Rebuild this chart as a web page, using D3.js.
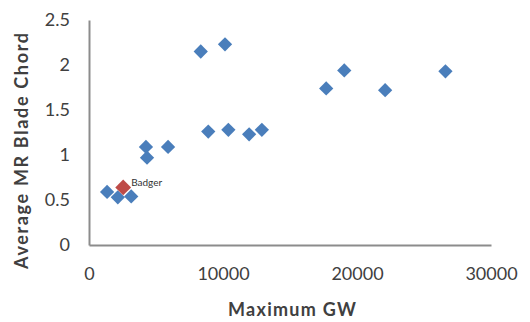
<!DOCTYPE html>
<html>
<head>
<meta charset="utf-8">
<script src="https://cdn.jsdelivr.net/npm/d3@7"></script>
<style>
  body { margin: 0; background: #fff; }
  svg text { font-family: Lato, "Open Sans", sans-serif; }
</style>
</head>
<body>
<div id="chart"></div>
<script>
// Dados
var gwValues = [1350, 2150, 3150, 4250, 4330, 5900, 8340, 8900, 10150, 10400, 11950, 12900, 17700, 19050, 22100, 26600];
var chordValues = [0.59, 0.53, 0.54, 1.09, 0.97, 1.09, 2.15, 1.26, 2.23, 1.28, 1.23, 1.28, 1.74, 1.94, 1.72, 1.93];
var badgerGW = [2550];
var badgerChord = [0.64];
var badgerLabel = ["Badger"];
var xTicks = [0, 10000, 20000, 30000];
var yTicks = [0, 0.5, 1, 1.5, 2, 2.5];

var width = 530, height = 322;
var margin = { top: 20, right: 39, bottom: 77, left: 89 };

var svg = d3.select("#chart").append("svg")
    .attr("width", width)
    .attr("height", height);

var x = d3.scaleLinear().domain([0, 30000]).range([margin.left, width - margin.right]);
var y = d3.scaleLinear().domain([0, 2.5]).range([height - margin.bottom, margin.top]);

// Eixo Y
var yAxis = svg.append("g")
    .attr("transform", `translate(${margin.left},0)`)
    .call(d3.axisLeft(y).tickValues(yTicks).tickSize(0).tickPadding(19).tickFormat(d => d));
yAxis.select(".domain").attr("stroke", "#8c8c8c").attr("stroke-width", 2);
yAxis.selectAll("text").attr("font-size", 18).attr("fill", "#404040");

// Eixo X
var xAxis = svg.append("g")
    .attr("transform", `translate(0,${y(0)})`)
    .call(d3.axisBottom(x).tickValues(xTicks).tickSize(0).tickPadding(22).tickFormat(d => d));
xAxis.select(".domain").attr("stroke", "#8c8c8c").attr("stroke-width", 2);
xAxis.selectAll("text").attr("font-size", 18).attr("fill", "#404040");

// Títulos dos eixos
svg.append("text")
    .attr("x", 292)
    .attr("y", 316)
    .attr("text-anchor", "middle")
    .attr("font-size", 18)
    .attr("font-weight", "bold")
    .attr("fill", "#404040")
    .attr("textLength", 128)
    .text("Maximum GW");

svg.append("text")
    .attr("transform", "translate(28, 151) rotate(-90)")
    .attr("text-anchor", "middle")
    .attr("font-size", 18)
    .attr("font-weight", "bold")
    .attr("fill", "#404040")
    .attr("textLength", 236)
    .text("Average MR Blade Chord");

// Pontos
var diamond = d3.symbol().type(d3.symbolDiamond2);
svg.append("g").selectAll("path")
    .data(gwValues.map((g, i) => [g, chordValues[i]]))
    .join("path")
    .attr("transform", d => `translate(${x(d[0])},${y(d[1])})`)
    .attr("d", diamond.size(130)())
    .attr("fill", "#4a7ebb");

svg.append("g").selectAll("path")
    .data(badgerGW.map((g, i) => [g, badgerChord[i]]))
    .join("path")
    .attr("transform", d => `translate(${x(d[0])},${y(d[1])})`)
    .attr("d", diamond.size(160)())
    .attr("fill", "#be4b48");

svg.append("g").selectAll("text")
    .data(badgerGW.map((g, i) => [g, badgerChord[i], badgerLabel[i]]))
    .join("text")
    .attr("x", d => x(d[0]) + 8)
    .attr("y", d => y(d[1]) - 1)
    .attr("font-size", 10)
    .attr("fill", "#333")
    .text(d => d[2]);
</script>
</body>
</html>
